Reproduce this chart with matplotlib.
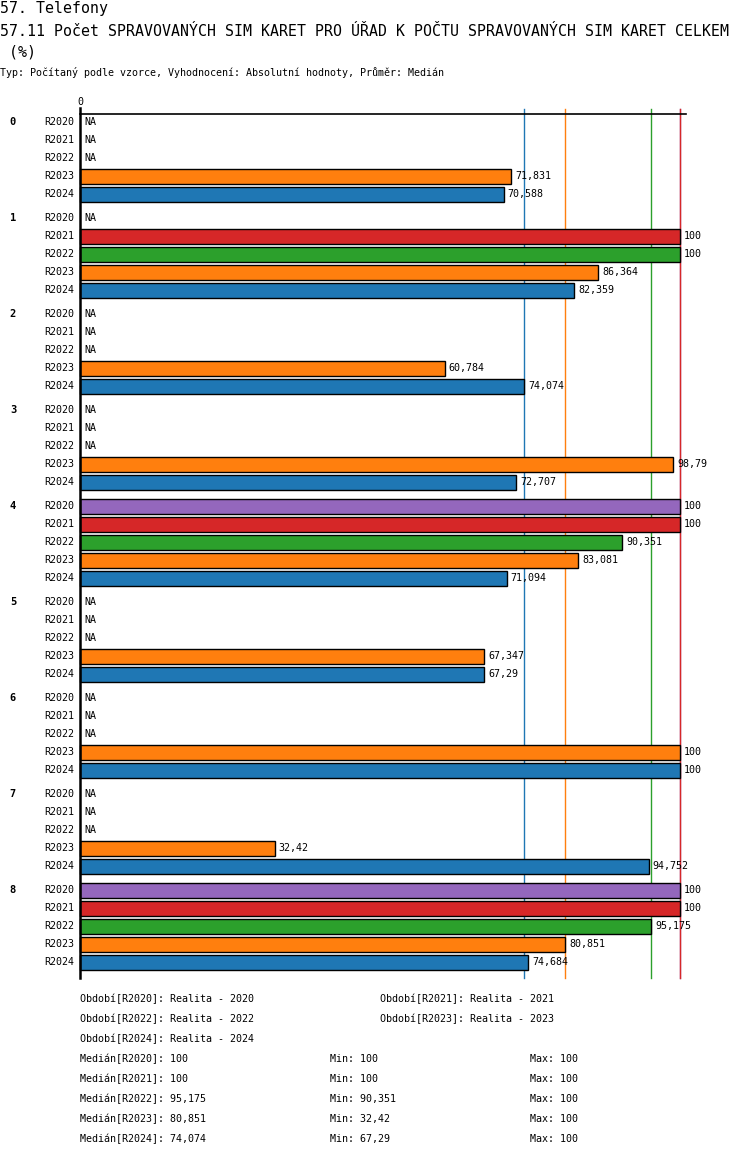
import matplotlib
matplotlib.use("Agg")
import matplotlib.pyplot as plt
import numpy as np

plt.rcParams['font.family'] = ['DejaVu Sans Mono']

# Data
groups = ["0", "1", "2", "3", "4", "5", "6", "7", "8"]
periods = ["R2020", "R2021", "R2022", "R2023", "R2024"]
NA = None
r2020 = [NA, NA, NA, NA, 100, NA, NA, NA, 100]
r2021 = [NA, 100, NA, NA, 100, NA, NA, NA, 100]
r2022 = [NA, 100, NA, NA, 90.351, NA, NA, NA, 95.175]
r2023 = [71.831, 86.364, 60.784, 98.79, 83.081, 67.347, 100, 32.42, 80.851]
r2024 = [70.588, 82.359, 74.074, 72.707, 71.094, 67.29, 100, 94.752, 74.684]
series = [r2020, r2021, r2022, r2023, r2024]
period_names = ["Realita - 2020", "Realita - 2021", "Realita - 2022",
                "Realita - 2023", "Realita - 2024"]
colors = ["#9467bd", "#d62728", "#2ca02c", "#ff7f0e", "#1f77b4"]

W, H = 750, 1158


def fx(px):
    return px / W


def fy(py):
    return 1 - py / H


def fmt(v):
    s = ("%.3f" % v).rstrip("0").rstrip(".")
    return s.replace(".", ",")


fig = plt.figure(figsize=(W / 100, H / 100), dpi=100)

# header
fig.text(fx(0), fy(8), "57. Telefony", fontsize=10.75, va="center", ha="left")
fig.text(fx(0), fy(31), "57.11 Počet SPRAVOVANÝCH SIM KARET PRO ÚŘAD K POČTU SPRAVOVANÝCH SIM KARET CELKEM",
         fontsize=10.75, va="center", ha="left")
fig.text(fx(0), fy(52), " (%)", fontsize=10.75, va="center", ha="left")
fig.text(fx(0), fy(72), "Typ: Počítaný podle vzorce, Vyhodnocení: Absolutní hodnoty, Průměr: Medián",
         fontsize=7.2, va="center", ha="left")

# plot area, y in pixel rows
ax = fig.add_axes([fx(80), fy(978), 600 / W, 870 / H])
ax.set_xlim(0, 100)
ax.set_ylim(978, 108)
ax.axis("off")

# median lines (drawn behind bars)
medians = []
for vals in series:
    v = [x for x in vals if x is not None]
    medians.append(float(np.median(v)))
for med, col in zip(medians, colors):
    ax.plot([med, med], [109, 978], color=col, lw=1, zorder=1, clip_on=False)

bar_h = 15
for gi, g in enumerate(groups):
    y0 = 122 + gi * 96
    fig.text(fx(13), fy(y0), g, fontsize=7.5, fontweight="bold", ha="center", va="center")
    for ri, (p, vals, col) in enumerate(zip(periods, series, colors)):
        y = y0 + ri * 18
        ax.text(-1, y, p, fontsize=7.2, ha="right", va="center", clip_on=False)
        v = vals[gi]
        if v is None:
            ax.annotate("NA", (0, y), xytext=(3, 0), textcoords="offset points",
                        fontsize=7.2, va="center", ha="left")
        else:
            ax.barh(y, v, height=bar_h, color=col, edgecolor="black", lw=1, zorder=2,
                    clip_on=False)
            ax.annotate(fmt(v), (v, y), xytext=(3, 0), textcoords="offset points",
                        fontsize=7.2, va="center", ha="left", zorder=3)

# axis lines
ax.plot([0, 101], [114, 114], color="black", lw=1.2, clip_on=False, zorder=4)
ax.plot([0, 0], [108, 978], color="black", lw=1.8, clip_on=False, zorder=4)
ax.text(0, 102, "0", fontsize=7.2, ha="center", va="center")

# legend
leg_pos = [(80, 999), (380, 999), (80, 1019), (380, 1019), (80, 1039)]
for (lx, ly), p, n in zip(leg_pos, periods, period_names):
    fig.text(fx(lx), fy(ly), "Období[%s]: %s" % (p, n), fontsize=7.2, va="center")

for i, (p, vals) in enumerate(zip(periods, series)):
    v = [x for x in vals if x is not None]
    ly = 1059 + i * 20
    fig.text(fx(80), fy(ly), "Medián[%s]: %s" % (p, fmt(np.median(v))), fontsize=7.2, va="center")
    fig.text(fx(330), fy(ly), "Min: %s" % fmt(min(v)), fontsize=7.2, va="center")
    fig.text(fx(530), fy(ly), "Max: %s" % fmt(max(v)), fontsize=7.2, va="center")

fig.savefig("out.png", dpi=100)
